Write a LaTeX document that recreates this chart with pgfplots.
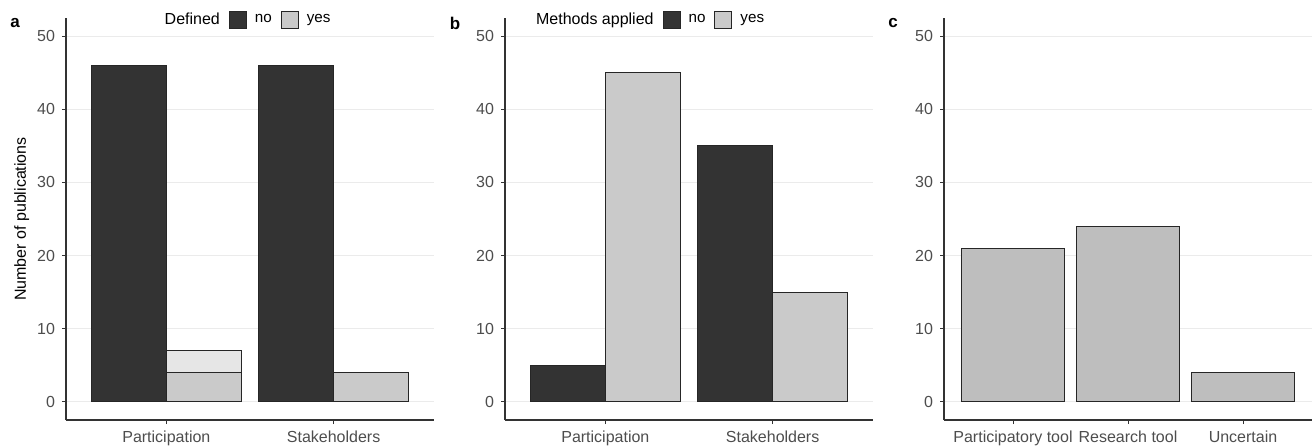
\documentclass[border=0pt]{standalone}
\usepackage{fontspec}
\setmainfont{Liberation Sans}
\usepackage{pgfplots}
\pgfplotsset{compat=1.18}
\definecolor{darkbar}{HTML}{333333}
\definecolor{lightbar}{HTML}{CACACA}
\definecolor{paler}{HTML}{E6E6E6}
\definecolor{cbar}{HTML}{BEBEBE}
\definecolor{gridc}{HTML}{EBEBEB}
\definecolor{tickc}{HTML}{4D4D4D}
\pgfplotsset{
  panel/.style={
    scale only axis, width=184pt, height=201pt, anchor=south west,
    axis x line*=bottom, axis y line*=left,
    axis line style={-, draw=black!80, line width=0.6pt},
    ymin=-2.5, ymax=52.5, ytick={0,10,20,30,40,50},
    ymajorgrids, grid style={gridc, line width=0.5pt},
    tick align=outside, major tick length=2pt,
    major tick style={draw=black!80, line width=0.5pt},
    tick label style={font=\fontsize{8}{9}\selectfont, text=tickc},
    /pgf/number format/assume math mode=true,
    ybar, bar width=0.45, xtick=data,
    every axis plot/.append style={draw=black!85, line width=0.5pt},
    legend image code/.code={\draw[#1] (0pt,-4.2pt) rectangle (8.5pt,4.2pt);},
    legend style={draw=none, fill=none, legend columns=-1,
      font=\fontsize{7.6}{8.5}\selectfont, inner sep=0pt,
      /tikz/every odd column/.append style={column sep=2pt},
      /tikz/every even column/.append style={column sep=2.5pt},
      cells={anchor=west}},
  },
}
\begin{document}
\begin{tikzpicture}
\useasboundingbox (0,0) rectangle (656.5pt,223pt);
% panel a
\begin{axis}[panel, at={(33pt,13pt)}, xmin=0.4, xmax=2.6,
  xticklabels={Participation,Stakeholders},
  ylabel={Number of publications},
  ylabel style={at={(axis description cs:-0.12,0.5)}, anchor=center, font=\fontsize{8}{9}\selectfont},
  legend style={at={(0.488,0.995)}, anchor=center}]
\addlegendimage{empty legend}\addlegendentry{\fontsize{8}{9}\selectfont Defined}
\addplot[fill=darkbar, bar shift=-0.225] coordinates {(1,46) (2,46)};
\addlegendentry{no}
\addplot[fill=paler, bar shift=0.225, forget plot] coordinates {(1,7)};
\addplot[fill=lightbar, bar shift=0.225] coordinates {(1,4) (2,4)};
\addlegendentry{yes}
\end{axis}
% panel b
\begin{axis}[panel, at={(252.5pt,13pt)}, xmin=0.4, xmax=2.6,
  xticklabels={Participation,Stakeholders},
  legend style={at={(0.389,0.995)}, anchor=center}]
\addlegendimage{empty legend}\addlegendentry{\fontsize{8}{9}\selectfont Methods applied}
\addplot[fill=darkbar, bar shift=-0.225] coordinates {(1,5) (2,35)};
\addlegendentry{no}
\addplot[fill=lightbar, bar shift=0.225] coordinates {(1,45) (2,15)};
\addlegendentry{yes}
\end{axis}
% panel c
\begin{axis}[panel, at={(472pt,13pt)}, xmin=0.4, xmax=3.6, bar width=0.9,
  xticklabels={Participatory tool,Research tool,Uncertain}]
\addplot[fill=cbar, bar shift=0] coordinates {(1,21) (2,24) (3,4)};
\end{axis}
\node[font=\bfseries\fontsize{8.5}{9}\selectfont] at (7.5pt,211.5pt) {a};
\node[font=\bfseries\fontsize{8.5}{9}\selectfont] at (227.5pt,211.5pt) {b};
\node[font=\bfseries\fontsize{8.5}{9}\selectfont] at (446.5pt,211.5pt) {c};
\end{tikzpicture}
\end{document}
